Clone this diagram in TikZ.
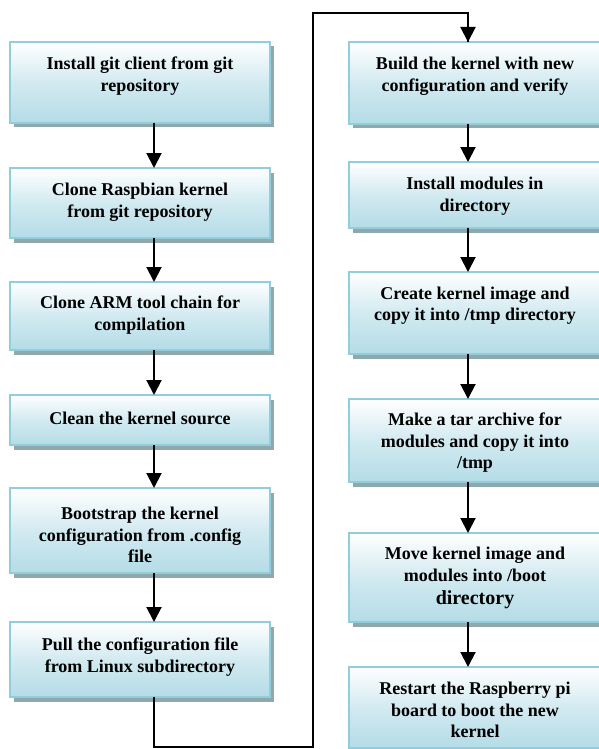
\documentclass[tikz,border=0pt]{standalone}
\usepackage{fontspec}
\setmainfont{Liberation Serif}
\usetikzlibrary{arrows.meta,shadows}
\definecolor{boxblue}{RGB}{180,220,231}
\definecolor{boxline}{RGB}{146,205,220}
\definecolor{shadowgray}{RGB}{143,168,173}
\newcommand{\steptext}[4]{\parbox[c][#1pt][c]{#2pt}{\centering\fontsize{18}{21.5}\selectfont\bfseries #4\par\vspace{#3pt}}}
\begin{document}
\begin{tikzpicture}[x=1pt,y=-1pt,
  stepbox/.style={draw=boxline, line width=1.6pt, top color=white, bottom color=boxblue,
    middle color=boxblue!60!white, inner sep=0pt, outer sep=0pt,
    drop shadow={shadow xshift=3.5pt, shadow yshift=-4.5pt, fill=shadowgray, opacity=1}},
  arr/.style={line width=2pt, -{Triangle[width=15pt,length=15pt]}},
  loopline/.style={line width=1.6pt, line join=miter}]
\useasboundingbox (0,0) rectangle (598,749);
% left column
\node[stepbox] (L1) at (140,82.5) {\steptext{81}{260}{13}{Install git client from git\\repository}};
\node[stepbox] (L2) at (140,203) {\steptext{70}{260}{2}{Clone Raspbian kernel\\from git repository}};
\node[stepbox] (L3) at (140,316) {\steptext{68}{260}{2}{Clone ARM tool chain for\\compilation}};
\node[stepbox] (L4) at (140,420) {\steptext{50}{260}{4}{Clean the kernel source}};
\node[stepbox] (L5) at (140,530.5) {\steptext{85}{260}{-9}{Bootstrap the kernel\\configuration from .config\\file}};
\node[stepbox] (L6) at (140,659.5) {\steptext{75}{260}{5}{Pull the configuration file\\from Linux subdirectory}};
% right column
\node[stepbox] (R1) at (475,83) {\steptext{82}{252}{14}{Build the kernel with new\\configuration and verify}};
\node[stepbox] (R2) at (475,195) {\steptext{66}{252}{-2}{Install modules in\\directory}};
\node[stepbox] (R3) at (475,313) {\steptext{82}{252}{15}{Create kernel image and\\copy it into /tmp directory}};
\node[stepbox] (R4) at (475,440.5) {\steptext{83}{252}{-5}{Make a tar archive for\\modules and copy it into\\/tmp}};
\node[stepbox] (R5) at (475,577.5) {\steptext{89}{252}{-1}{Move kernel image and\\modules into /boot\\[1.5pt]{\fontsize{20}{24}\selectfont directory}}};
\node[stepbox] (R6) at (475,707.5) {\steptext{81}{252}{-5}{Restart the Raspberry pi\\board to boot the new\\kernel}};
% arrows
\foreach \a/\b in {L1/L2,L2/L3,L3/L4,L4/L5,L5/L6}
  \draw[arr] ([xshift=14pt]\a.south) -- ([xshift=14pt]\b.north);
\foreach \a/\b in {R1/R2,R2/R3,R3/R4,R4/R5,R5/R6}
  \draw[arr] ([xshift=-7pt]\a.south) -- ([xshift=-7pt]\b.north);
% loop connector
\coordinate (c1) at (154,747);
\coordinate (c2) at (313,747);
\coordinate (c3) at (313,13);
\coordinate (c4) at (468,13);
\draw[loopline] ([xshift=14pt]L6.south) -- (c1) -- (c2) -- (c3) -- (c4) -- ([xshift=-7pt]R1.north);
\draw[arr] (468,20) -- ([xshift=-7pt]R1.north);
\end{tikzpicture}
\end{document}
